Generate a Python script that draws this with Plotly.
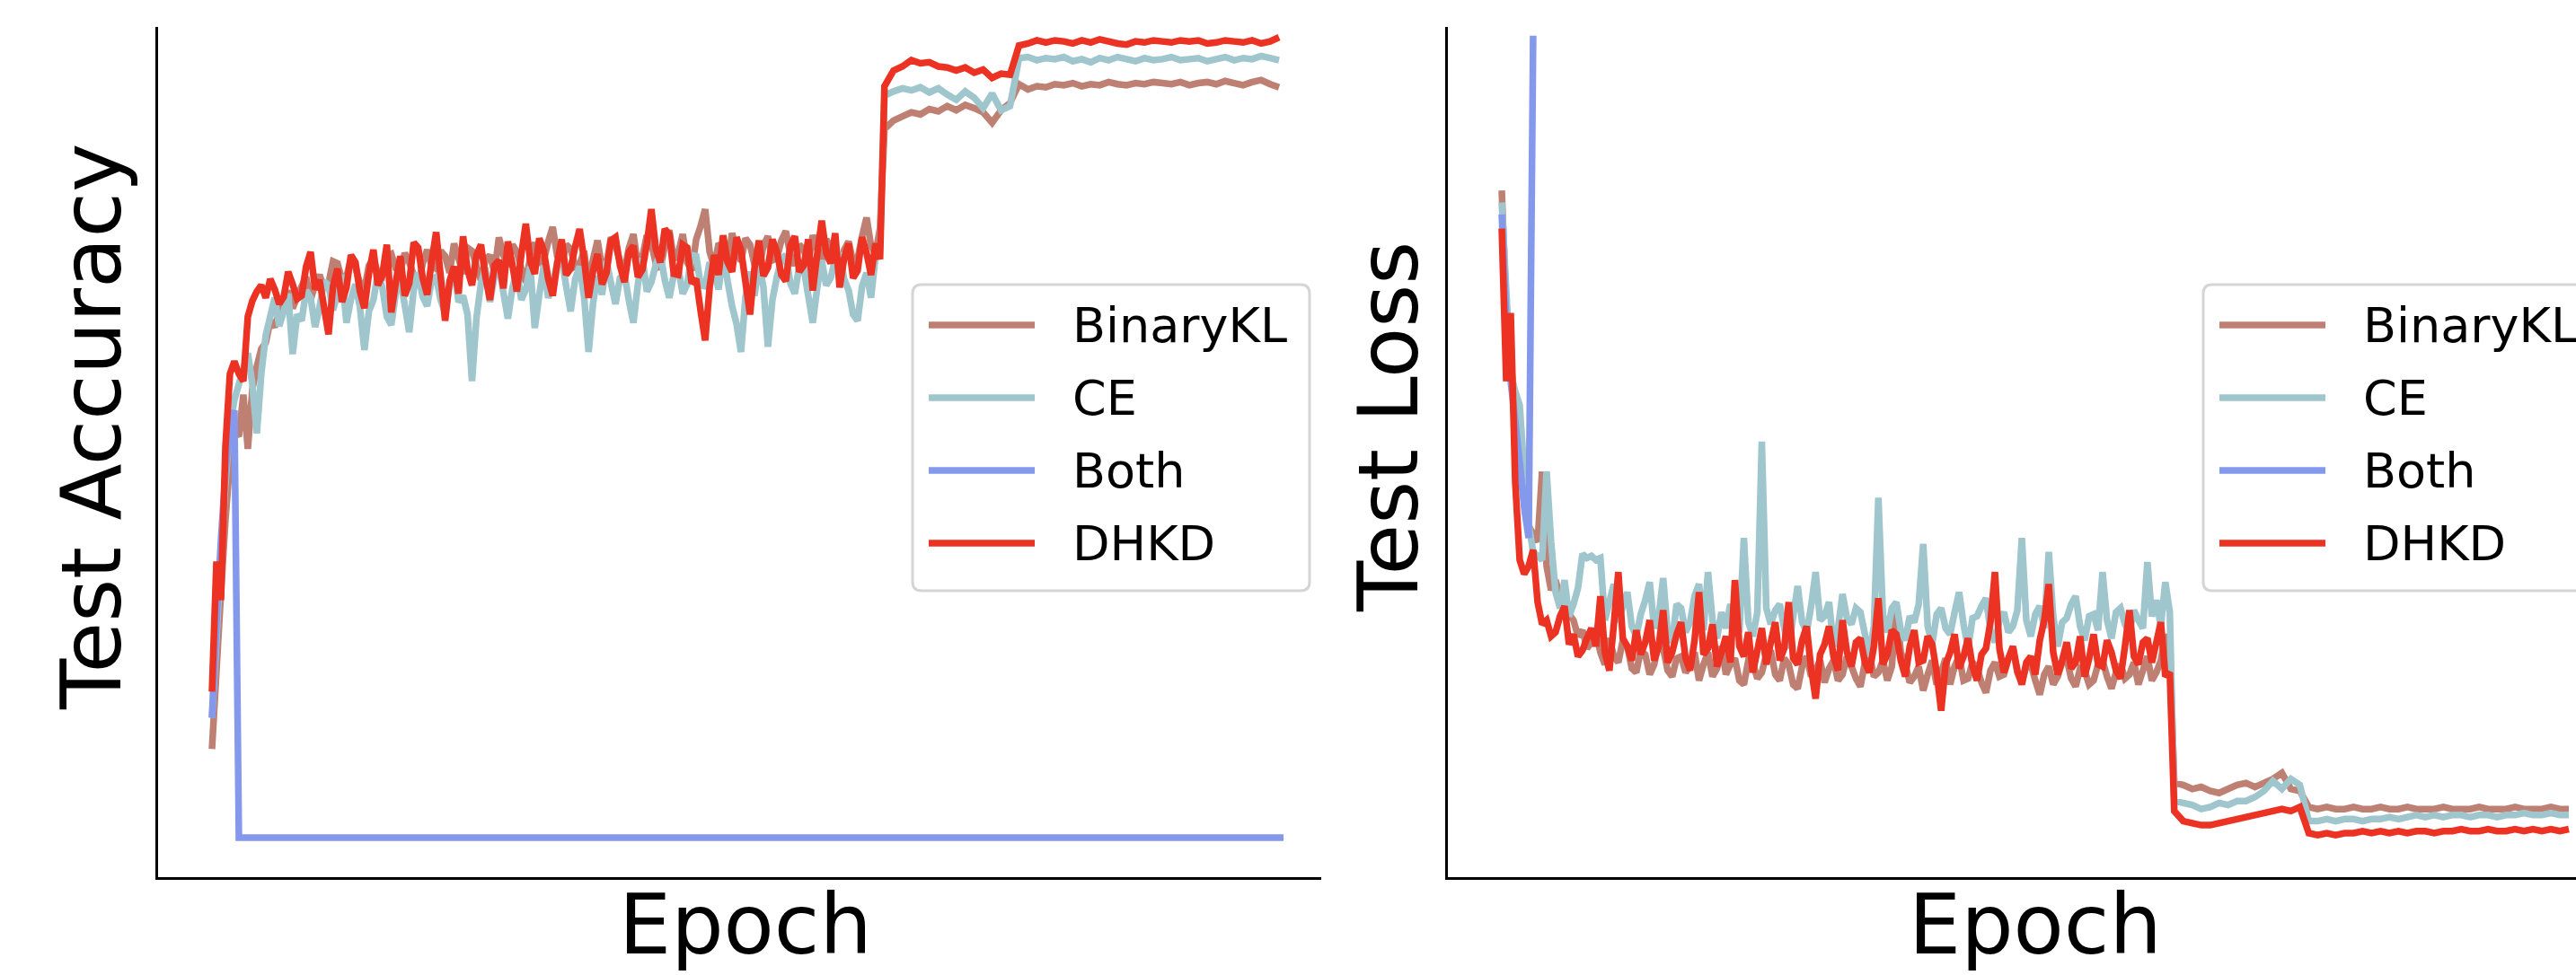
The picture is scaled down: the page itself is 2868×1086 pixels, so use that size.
import plotly.graph_objects as go

# ---------------- data ----------------
# every epoch up to 149, every second epoch afterwards
EPOCHS = list(range(0, 150)) + list(range(150, 240, 2))

SERIES_NAMES = ["BinaryKL", "CE", "Both", "DHKD"]
SERIES_COLORS = ["#BF8074", "#A0C6CD", "#8499EB", "#EB3223"]

# Test accuracy (%)
ACC_BINARYKL = [
    9.5, 17.0, 24.5, 31.5, 37.0, 40.0, 39.5, 43.5, 38.3, 44.0,
    46.2, 47.9, 48.5, 50.6, 50.0, 51.4, 52.3, 53.5, 51.8, 52.9,
    53.9, 54.8, 52.6, 54.1, 55.0, 53.7, 54.2, 56.3, 56.1, 54.5,
    54.8, 56.6, 55.7, 54.2, 53.6, 55.9, 56.5, 55.2, 54.9, 56.8,
    57.0, 55.6, 55.3, 57.1, 56.2, 55.0, 54.0, 56.1, 57.4, 55.9,
    55.6, 57.3, 56.8, 55.2, 58.0, 56.6, 55.1, 57.6, 57.3, 55.8,
    54.5, 56.4, 56.9, 55.3, 58.6, 56.9, 55.8, 57.9, 57.2, 55.6,
    54.3, 56.7, 58.1, 56.0, 56.4, 58.2, 59.6, 56.8, 55.9, 57.9,
    57.5, 55.8, 56.0, 57.3, 53.9, 56.5, 58.3, 55.7, 56.1, 58.6,
    57.8, 56.3, 55.4, 57.6, 58.9, 55.9, 56.7, 58.8, 58.0, 56.1,
    55.6, 57.8, 59.3, 56.5, 57.1, 58.9, 56.2, 55.4, 58.4, 59.7,
    61.3, 57.2, 55.8, 58.0, 57.6, 55.9, 59.0, 57.3, 56.3, 58.5,
    57.9, 56.0, 55.5, 57.8, 58.7, 56.4, 56.6, 58.3, 59.2, 56.9,
    55.9, 57.9, 57.4, 56.1, 58.8, 57.5, 56.0, 58.4, 57.7, 56.3,
    55.1, 57.4, 58.2, 56.2, 56.5, 58.7, 60.5, 57.8, 57.0, 59.5,
    69.0, 69.8, 70.2, 70.6, 70.4, 70.9, 70.7, 71.2, 70.8, 71.3,
    71.0, 70.6, 69.6, 70.8, 71.5, 73.3, 72.8, 73.1, 73.0, 73.3,
    73.2, 73.4, 73.1, 73.3, 73.2, 73.5, 73.3, 73.2, 73.4, 73.3,
    73.5, 73.4, 73.3, 73.5, 73.2, 73.4, 73.5, 73.3, 73.6, 73.4,
    73.2, 73.5, 73.7, 73.3, 73.0,
]
ACC_CE = [
    12.5, 20.0, 28.0, 35.0, 40.5, 43.0, 44.5, 46.0, 47.5, 44.5,
    39.8, 45.5, 49.2, 51.0, 52.8, 50.1, 51.5, 53.2, 47.4, 51.2,
    50.6, 53.5, 52.8, 50.0, 51.9, 54.4, 54.0, 51.6, 53.2, 55.0,
    50.4, 52.7, 54.1, 51.9, 47.8, 51.5, 52.6, 55.1, 53.8, 51.0,
    50.2, 53.3, 54.6, 52.1, 49.5, 53.6, 55.2, 52.9, 52.0, 54.5,
    54.8, 52.6, 51.3, 54.0, 55.6, 52.4, 53.0, 51.2, 44.8, 50.9,
    54.2, 55.7, 52.4, 54.9, 56.0, 53.3, 50.8, 53.7, 55.4, 52.6,
    53.6, 55.8, 49.9, 53.1, 55.9, 52.8, 54.0, 56.2, 56.7, 53.9,
    51.5, 54.6, 55.8, 52.9, 47.6, 52.3, 54.9, 53.1, 56.3, 54.2,
    52.2, 54.7, 55.1, 52.5, 50.4, 54.1, 56.6, 53.4, 54.3, 56.0,
    57.0, 54.5, 52.8, 55.0, 55.7, 53.2, 54.1, 56.9, 56.8, 54.0,
    53.9, 56.2, 55.4, 53.6, 57.2, 54.4, 52.0, 50.3, 47.6, 52.9,
    55.3, 53.0, 56.1, 53.8, 48.1, 52.6, 54.8, 56.5, 56.9, 54.2,
    53.2, 55.9, 55.6, 53.0, 50.4, 53.8, 56.4, 54.0, 54.7, 56.5,
    57.1, 54.6, 53.5, 51.2, 50.6, 53.9, 55.2, 52.8, 56.8, 58.0,
    72.2, 72.6, 72.9, 72.7, 73.0, 72.5, 72.9, 72.3, 71.8, 72.6,
    72.0, 71.0, 72.4, 70.8, 71.2, 75.8, 75.9, 75.6, 75.8, 75.7,
    75.9, 75.5, 75.7, 75.4, 75.8, 75.6, 75.9, 75.7, 75.5, 75.8,
    75.6, 75.7, 75.9, 75.6, 75.7, 75.8, 75.5, 75.7, 75.9, 75.6,
    75.8, 75.7, 76.0, 75.8, 75.6,
]
ACC_BOTH_EPOCHS = [0, 1, 2, 3, 4, 5, 6, 239]
ACC_BOTH = [12.5, 21.5, 29.5, 36.0, 40.5, 42.0, 1.0, 1.0]
ACC_DHKD = [
    15.0, 27.5, 23.8, 38.5, 45.5, 46.7, 45.5, 44.8, 51.0, 52.5,
    53.4, 54.0, 52.8, 54.6, 53.6, 52.2, 52.9, 55.3, 54.1, 52.7,
    53.0, 55.8, 57.2, 53.6, 54.5, 51.9, 49.3, 53.9, 55.6, 52.4,
    53.8, 56.9, 56.2, 53.4, 51.8, 55.1, 57.4, 54.0, 55.0, 57.9,
    51.4, 54.3, 56.8, 53.0, 54.2, 58.1, 57.6, 54.7, 53.1, 56.3,
    59.1, 54.9, 50.6, 54.4, 55.8, 53.2, 58.7, 55.5, 54.0, 56.9,
    57.9, 54.8, 52.6, 55.9, 56.4, 53.7, 58.2, 56.0, 53.4, 57.0,
    59.9, 56.3, 55.1, 58.5, 57.3, 54.6, 53.0, 56.1, 58.4, 55.0,
    55.6, 57.7, 59.4, 56.5, 52.8, 55.4, 57.0, 54.1, 55.2, 58.3,
    58.6, 55.9, 54.3, 57.2, 57.8, 54.8, 55.5, 58.0, 61.3, 57.5,
    56.2, 59.4, 58.9, 55.1, 55.0, 57.9, 57.6, 54.2, 54.6, 51.5,
    48.7, 53.8, 56.9, 55.0, 58.8, 56.2, 55.3, 58.6, 57.4, 54.3,
    51.2, 55.6, 58.3, 54.9, 55.7, 58.4, 57.2, 55.0, 54.4, 57.8,
    58.7, 55.3, 55.9, 58.4, 53.5, 57.0, 60.2, 57.1, 56.1, 59.0,
    53.8, 56.6, 58.0, 54.7, 55.4, 58.6, 57.1, 55.0, 58.0, 56.5,
    73.1, 74.6, 75.0, 75.6, 75.3, 75.4, 75.0, 74.9, 74.6, 74.9,
    74.4, 74.7, 73.9, 74.3, 74.2, 77.0, 77.2, 77.5, 77.3, 77.5,
    77.4, 77.2, 77.5, 77.3, 77.6, 77.4, 77.2, 77.1, 77.4, 77.3,
    77.5, 77.4, 77.3, 77.5, 77.4, 77.5, 77.2, 77.3, 77.5, 77.4,
    77.3, 77.5, 77.2, 77.4, 77.8,
]

# Test loss
LOSS_BINARYKL = [
    4.20, 3.61, 3.35, 3.11, 2.85, 2.65, 2.53, 2.49, 2.45, 2.80,
    2.33, 2.21, 2.26, 2.17, 2.13, 2.09, 2.06, 1.98, 2.01, 1.92,
    1.95, 2.00, 1.90, 1.84, 1.97, 1.88, 1.85, 1.96, 1.93, 1.82,
    1.80, 1.91, 1.89, 1.79, 1.84, 1.95, 1.92, 1.81, 1.78, 1.87,
    1.88, 1.80, 1.83, 1.90, 1.76, 1.84, 1.90, 1.78, 1.82, 1.93,
    1.79, 1.84, 1.87, 1.76, 1.74, 1.86, 1.85, 1.77, 1.80, 1.89,
    1.91, 1.79, 1.76, 1.87, 1.84, 1.74, 1.72, 1.83, 1.88, 1.78,
    1.81, 1.86, 1.75, 1.82, 1.86, 1.76, 1.79, 1.88, 1.83, 1.77,
    1.73, 1.85, 1.89, 1.78, 1.80, 1.86, 1.76, 1.83, 2.12, 1.90,
    1.84, 1.75, 1.78, 1.83, 1.71, 1.79, 1.86, 1.74, 1.80, 1.87,
    1.74, 1.83, 1.88, 1.76, 1.77, 1.85, 1.82, 1.75, 1.70, 1.81,
    1.85, 1.78, 1.79, 1.87, 1.92, 1.80, 1.75, 1.83, 1.84, 1.76,
    1.69, 1.79, 1.83, 1.74, 1.78, 1.85, 1.87, 1.77, 1.73, 1.82,
    1.81, 1.74, 1.76, 1.84, 1.86, 1.78, 1.72, 1.80, 1.84, 1.77,
    1.79, 1.85, 1.74, 1.81, 1.88, 1.76, 1.80, 1.86, 1.99, 1.90,
    1.25, 1.24, 1.22, 1.23, 1.21, 1.20, 1.22, 1.24, 1.25, 1.23,
    1.25, 1.27, 1.30, 1.22, 1.21, 1.13, 1.12, 1.13, 1.12, 1.12,
    1.13, 1.12, 1.12, 1.13, 1.12, 1.12, 1.13, 1.12, 1.12, 1.12,
    1.13, 1.12, 1.12, 1.12, 1.13, 1.12, 1.12, 1.12, 1.13, 1.12,
    1.12, 1.12, 1.13, 1.12, 1.12,
]
LOSS_CE = [
    4.14, 3.70, 3.29, 3.20, 3.13, 2.80, 2.54, 2.40, 2.38, 2.36,
    2.80, 2.45, 2.20, 2.12, 2.26, 2.08, 2.14, 2.22, 2.39, 2.37,
    2.38, 2.36, 2.37, 2.06, 2.15, 2.24, 2.05, 2.13, 2.20, 2.03,
    1.98, 2.09, 2.16, 2.25, 2.02, 2.08, 2.27, 2.00, 1.95, 2.14,
    2.12, 2.00, 2.05, 2.18, 2.24, 2.01, 2.30, 2.06, 1.97, 2.10,
    2.02, 2.14, 2.06, 2.00, 2.47, 2.05, 1.98, 2.10, 2.95, 2.12,
    2.04, 2.11, 2.14, 2.02, 1.92, 2.08, 2.23, 2.05, 2.00, 2.13,
    2.30, 2.06, 2.08, 2.15, 1.93, 2.02, 2.19, 2.07, 2.04, 2.12,
    2.10, 1.99, 1.88, 2.03, 2.67, 2.09, 2.00, 2.12, 2.15, 2.01,
    1.96, 2.08, 2.05, 2.14, 2.44, 2.03, 1.94, 2.09, 2.12, 2.02,
    1.99, 2.10, 2.20, 2.04, 1.92, 2.07, 2.08, 2.13, 2.17, 2.01,
    1.95, 2.06, 2.10, 2.00, 2.03, 2.11, 2.47, 2.06, 1.98, 2.09,
    2.13, 2.02, 2.40, 2.08, 1.93, 2.05, 2.07, 2.14, 2.18, 2.03,
    1.96, 2.08, 2.09, 2.01, 2.30, 2.06, 1.97, 2.10, 2.12, 2.04,
    2.00, 2.11, 2.06, 2.02, 2.35, 2.08, 2.16, 2.03, 2.25, 2.10,
    1.16, 1.15, 1.14, 1.12, 1.13, 1.15, 1.14, 1.16, 1.16, 1.18,
    1.21, 1.26, 1.22, 1.27, 1.24, 1.06, 1.06, 1.07, 1.06, 1.07,
    1.07, 1.06, 1.07, 1.07, 1.08, 1.07, 1.08, 1.09, 1.08, 1.09,
    1.08, 1.09, 1.09, 1.08, 1.09, 1.09, 1.08, 1.09, 1.09, 1.10,
    1.09, 1.09, 1.10, 1.09, 1.09,
]
LOSS_BOTH_EPOCHS = [0, 1, 2, 3, 4, 5, 6, 7]
LOSS_BOTH = [4.08, 3.55, 3.25, 3.05, 2.85, 2.62, 2.47, 4.97]
LOSS_DHKD = [
    4.01, 3.25, 3.59, 2.75, 2.36, 2.29, 2.33, 2.41, 2.15, 2.04,
    2.06, 1.98, 2.00, 2.08, 2.13, 1.94, 1.99, 1.88, 1.91, 1.97,
    2.02, 1.93, 2.18, 1.90, 1.81, 2.04, 2.30, 1.97, 1.93, 1.86,
    2.01, 1.89, 1.95, 2.06, 1.86, 1.93, 2.11, 1.85, 1.90, 1.99,
    2.05, 1.87, 1.81, 1.96, 2.20, 1.89, 1.92, 2.04, 1.83, 1.90,
    1.98, 1.85, 2.26, 1.93, 1.88, 2.00, 1.80, 1.91, 2.02, 1.84,
    1.95, 2.05, 1.86, 1.92, 2.15, 1.87, 1.84, 1.96, 2.03, 1.82,
    1.67, 1.89, 1.94, 2.03, 1.88, 1.81, 2.06, 1.90, 1.83, 1.95,
    1.97, 1.85, 1.80, 1.93, 2.17, 1.84, 1.89, 2.01, 1.99, 1.86,
    1.78, 1.93, 2.01, 1.85, 1.86, 1.98, 1.94, 1.80, 1.61, 1.84,
    1.90, 1.99, 1.82, 1.88, 1.97, 1.83, 1.76, 1.89, 1.92, 2.05,
    2.30, 1.92, 1.80, 1.87, 1.93, 1.81, 1.74, 1.85, 1.88, 1.79,
    1.96, 2.06, 2.24, 1.90, 1.79, 1.86, 1.95, 1.82, 1.85, 1.98,
    1.78, 1.87, 1.99, 1.84, 1.83, 1.96, 1.90, 1.81, 1.77, 1.93,
    2.11, 1.88, 1.84, 1.95, 1.97, 1.85, 1.95, 2.05, 1.78, 1.80,
    1.11, 1.06, 1.05, 1.04, 1.04, 1.05, 1.06, 1.07, 1.08, 1.09,
    1.10, 1.11, 1.12, 1.11, 1.13, 1.00, 0.99, 1.00, 0.99, 1.00,
    1.00, 1.01, 1.00, 1.01, 1.00, 1.01, 1.00, 1.01, 1.01, 1.00,
    1.01, 1.01, 1.02, 1.01, 1.01, 1.02, 1.01, 1.01, 1.02, 1.01,
    1.02, 1.01, 1.02, 1.01, 1.02,
]

# ---------------- layout geometry (pixels) ----------------
W, H = 2868, 1086
ML, MR, MT, MB = 176, 0, 30, 109
PW, PH = W - ML - MR, H - MT - MB
FONT = "DejaVu Sans"
LW = 7.5


def px_x(p):
    return (p - ML) / PW


def px_y(p):
    return (H - MB - p) / PH


fig = go.Figure()

acc_x = [EPOCHS, EPOCHS, ACC_BOTH_EPOCHS, EPOCHS]
acc_y = [ACC_BINARYKL, ACC_CE, ACC_BOTH, ACC_DHKD]
loss_x = [EPOCHS, EPOCHS, LOSS_BOTH_EPOCHS, EPOCHS]
loss_y = [LOSS_BINARYKL, LOSS_CE, LOSS_BOTH, LOSS_DHKD]

for name, col, xs, ys in zip(SERIES_NAMES, SERIES_COLORS, acc_x, acc_y):
    fig.add_trace(go.Scatter(x=xs, y=ys, mode="lines", name=name,
                             line=dict(color=col, width=LW, simplify=False),
                             xaxis="x", yaxis="y", showlegend=False))
for name, col, xs, ys in zip(SERIES_NAMES, SERIES_COLORS, loss_x, loss_y):
    fig.add_trace(go.Scatter(x=xs, y=ys, mode="lines", name=name,
                             line=dict(color=col, width=LW, simplify=False),
                             xaxis="x2", yaxis="y2", showlegend=False))

axis_common = dict(showline=True, linecolor="black", linewidth=3,
                   showgrid=False, zeroline=False, showticklabels=False,
                   ticks="", mirror=False, fixedrange=True)

fig.update_layout(
    width=W, height=H,
    margin=dict(l=ML, r=MR, t=MT, b=MB, pad=0),
    paper_bgcolor="white", plot_bgcolor="white",
    showlegend=False,
    xaxis=dict(domain=[0, px_x(1471)], range=[-12.02, 247.41], anchor="y", **axis_common),
    yaxis=dict(domain=[0, 1], range=[-2.79, 78.79], anchor="x", **axis_common),
    xaxis2=dict(domain=[px_x(1612), 1.0], range=[-12.02, 239.6], anchor="y2", **axis_common),
    yaxis2=dict(domain=[0, 1], range=[0.781, 5.014], anchor="x2", **axis_common),
)

# ---------------- axis titles ----------------
annotations = []
title_font = dict(family=FONT, size=92, color="black")
annotations.append(dict(text="Epoch", x=px_x(830), y=px_y(1030), xref="paper", yref="paper",
                        showarrow=False, xanchor="center", yanchor="middle", font=title_font))
annotations.append(dict(text="Epoch", x=px_x(2266), y=px_y(1030), xref="paper", yref="paper",
                        showarrow=False, xanchor="center", yanchor="middle", font=title_font))
annotations.append(dict(text="Test Accuracy", x=px_x(102), y=px_y(476), xref="paper", yref="paper",
                        showarrow=False, xanchor="center", yanchor="middle", textangle=-90,
                        font=title_font))
annotations.append(dict(text="Test Loss", x=px_x(1546), y=px_y(476), xref="paper", yref="paper",
                        showarrow=False, xanchor="center", yanchor="middle", textangle=-90,
                        font=title_font))

# ---------------- legends (drawn as boxes, sample lines and labels) ----------------
shapes = []


def rounded_box(x0, y0, x1, y1, r=10):
    pts = [
        ("M", [(x0 + r, y0)]),
        ("L", [(x1 - r, y0)]),
        ("Q", [(x1, y0), (x1, y0 + r)]),
        ("L", [(x1, y1 - r)]),
        ("Q", [(x1, y1), (x1 - r, y1)]),
        ("L", [(x0 + r, y1)]),
        ("Q", [(x0, y1), (x0, y1 - r)]),
        ("L", [(x0, y0 + r)]),
        ("Q", [(x0, y0), (x0 + r, y0)]),
    ]
    path = ""
    for cmd, coords in pts:
        path += cmd + " ".join(f"{px_x(a):.6f},{px_y(b):.6f}" for a, b in coords) + " "
    return path + "Z"


ROW_Y = [362, 443, 524, 605]
legend_font = dict(family=FONT, size=54, color="black")
for box_left in (1016, 2453):
    shapes.append(dict(type="path", path=rounded_box(box_left, 317, box_left + 442, 658),
                       xref="paper", yref="paper", fillcolor="white",
                       line=dict(color="#D5D5D5", width=3), layer="above"))
    for name, col, ry in zip(SERIES_NAMES, SERIES_COLORS, ROW_Y):
        shapes.append(dict(type="line", xref="paper", yref="paper",
                           x0=px_x(box_left + 18), x1=px_x(box_left + 136),
                           y0=px_y(ry), y1=px_y(ry),
                           line=dict(color=col, width=LW), layer="above"))
        annotations.append(dict(text=name, x=px_x(box_left + 176), y=px_y(ry),
                                xref="paper", yref="paper", showarrow=False,
                                xanchor="left", yanchor="middle", font=legend_font))

fig.update_layout(shapes=shapes, annotations=annotations)

fig.write_html(
    "out.html",
    config={"displayModeBar": False, "staticPlot": False},
    post_script="document.body.style.margin='0px';document.body.style.overflow='hidden';",
)
